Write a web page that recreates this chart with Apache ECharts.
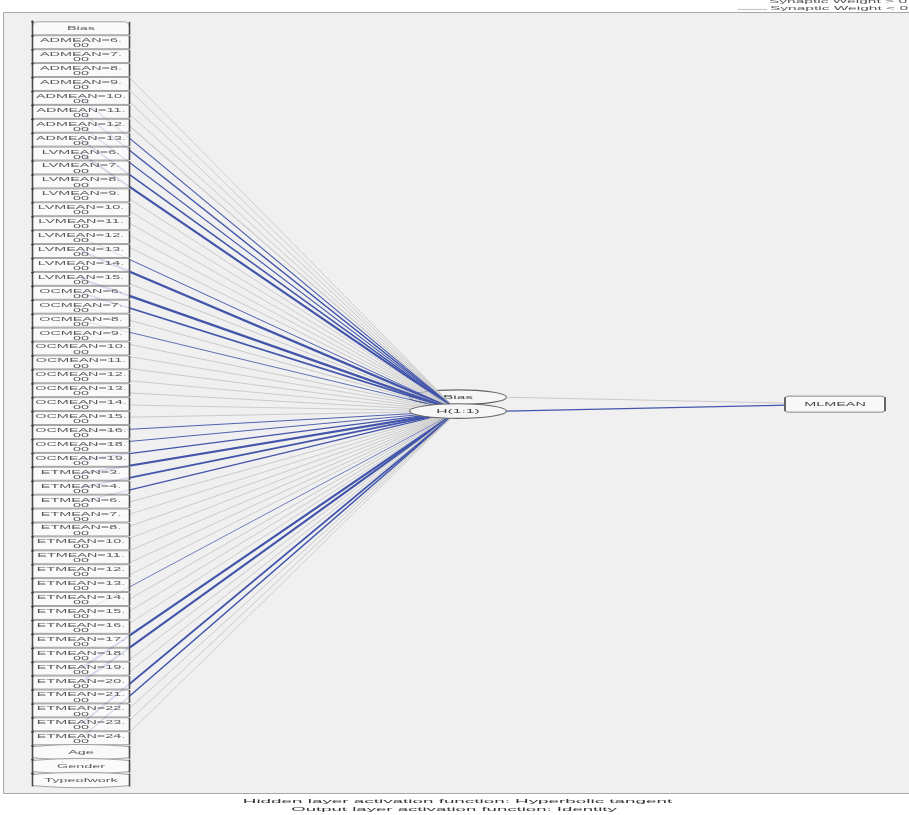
<!DOCTYPE html>
<html>
<head>
<meta charset="utf-8">
<script src="https://cdn.jsdelivr.net/npm/echarts@6/dist/echarts.min.js"></script>
<style>
  html, body { margin: 0; padding: 0; background: #ffffff; }
  #chart { width: 909px; height: 815px; }
</style>
</head>
<body>
<div id="chart"></div>
<script>
// ---- Network structure ----
const factorInputs = [
  'ADMEAN=6.00', 'ADMEAN=7.00', 'ADMEAN=8.00', 'ADMEAN=9.00', 'ADMEAN=10.00', 'ADMEAN=11.00', 'ADMEAN=12.00', 'ADMEAN=13.00',
  'LVMEAN=6.00', 'LVMEAN=7.00', 'LVMEAN=8.00', 'LVMEAN=9.00', 'LVMEAN=10.00', 'LVMEAN=11.00', 'LVMEAN=12.00', 'LVMEAN=13.00', 'LVMEAN=14.00', 'LVMEAN=15.00',
  'OCMEAN=6.00', 'OCMEAN=7.00', 'OCMEAN=8.00', 'OCMEAN=9.00', 'OCMEAN=10.00', 'OCMEAN=11.00', 'OCMEAN=12.00', 'OCMEAN=13.00', 'OCMEAN=14.00', 'OCMEAN=15.00', 'OCMEAN=16.00', 'OCMEAN=18.00', 'OCMEAN=19.00',
  'ETMEAN=3.00', 'ETMEAN=4.00', 'ETMEAN=6.00', 'ETMEAN=7.00', 'ETMEAN=8.00', 'ETMEAN=10.00', 'ETMEAN=11.00', 'ETMEAN=12.00', 'ETMEAN=13.00', 'ETMEAN=14.00',
  'ETMEAN=15.00', 'ETMEAN=16.00', 'ETMEAN=17.00', 'ETMEAN=18.00', 'ETMEAN=19.00', 'ETMEAN=20.00', 'ETMEAN=21.00', 'ETMEAN=22.00', 'ETMEAN=23.00', 'ETMEAN=24.00'
];
const covariateInputs = ['Age', 'Gender', 'Typeofwork'];
const inputNodes = ['Bias'].concat(factorInputs, covariateInputs);

const hiddenNodes = ['Bias', 'H(1:1)'];
const outputNodes = ['MLMEAN'];

// Synaptic weights: input layer -> H(1:1), in the order of inputNodes
const inputWeights = [
  -0.18,
  -0.18, -0.20, -0.20, -0.22, 0.24, 0.30, 0.24, 0.34,
  0.48, -0.20, -0.18, -0.20, -0.18, -0.20, 0.20, 0.50, -0.20, 0.48,
  0.36, -0.20, 0.18, -0.20, -0.18, -0.20, -0.18, -0.20, -0.18, -0.20, 0.20, 0.20, 0.30,
  0.45, 0.36, 0.26, -0.20, -0.18, -0.20, -0.18, -0.20, -0.20, -0.18,
  0.16, -0.20, -0.20, -0.18, 0.50, 0.45, -0.20, -0.20, 0.40, 0.30,
  -0.20, -0.20, -0.18
];
// Synaptic weights: hidden layer (Bias, H(1:1)) -> MLMEAN
const hiddenWeights = [-0.20, 0.30];

const legendLabels = ['Synaptic Weight > 0', 'Synaptic Weight < 0'];
const footnotes = [
  'Hidden layer activation function: Hyperbolic tangent',
  'Output layer activation function: Identity'
];

// ---- Layout on the (hidden) value axes ----
const LAYER_IN = 0, LAYER_HID = 1, LAYER_OUT = 2;
const hiddenRows = [26.5, 27.5];
const outputRows = [27];

const POS = '#4255aa';
const NEG = '#c6c6c6';
const FONT = '"Liberation Sans", Arial, sans-serif';
const ELL_RX = 48.5, ELL_RY = 7.3;

function weightStyle(w) {
  return { stroke: w > 0 ? POS : NEG, lineWidth: Math.max(0.6, Math.abs(w) * 4.6) };
}

function txt(x, y, text, size, sx, sy, color) {
  return {
    type: 'text', x: x, y: y, scaleX: sx, scaleY: sy, z2: 20,
    style: { text: text, fill: color, font: size + 'px ' + FONT, align: 'center', verticalAlign: 'middle' }
  };
}

// Connections: [fromLayer, fromRow, toLayer, toRow, weight]
const links = [];
inputNodes.forEach(function (n, i) {
  links.push([LAYER_IN, i, LAYER_HID, hiddenRows[1], inputWeights[i]]);
});
hiddenNodes.forEach(function (n, j) {
  links.push([LAYER_HID, hiddenRows[j], LAYER_OUT, outputRows[0], hiddenWeights[j]]);
});

const chart = echarts.init(document.getElementById('chart'), null, { renderer: 'canvas' });

const option = {
  backgroundColor: '#ffffff',
  animation: false,
  grid: { left: 81, right: 74, top: 28.3, bottom: 35, containLabel: false },
  xAxis: { type: 'value', min: 0, max: 2, show: false },
  yAxis: { type: 'value', min: 0, max: 54, inverse: true, show: false },
  graphic: [
    { type: 'rect', z: 0, shape: { x: 3.5, y: 12.5, width: 930, height: 781 },
      style: { fill: '#f0f0f0', stroke: '#a8a8a8', lineWidth: 1 } },
    { type: 'line', z: 0, shape: { x1: 738, y1: 9.5, x2: 767, y2: 9.5 }, style: { stroke: NEG, lineWidth: 1.2 } },
    { type: 'text', z: 1, x: 769, y: 2.2, scaleX: 1.55, scaleY: 0.45,
      style: { text: legendLabels[0], fill: '#555', font: '10px ' + FONT, align: 'left', verticalAlign: 'middle' } },
    { type: 'text', z: 1, x: 770, y: 8.8, scaleX: 1.55, scaleY: 0.45,
      style: { text: legendLabels[1], fill: '#555', font: '10px ' + FONT, align: 'left', verticalAlign: 'middle' } },
    { type: 'text', z: 1, x: 457.5, y: 800.8, scaleX: 1.57, scaleY: 0.52,
      style: { text: footnotes[0], fill: '#333', font: '12px ' + FONT, align: 'center', verticalAlign: 'middle' } },
    { type: 'text', z: 1, x: 454, y: 809.4, scaleX: 1.55, scaleY: 0.52,
      style: { text: footnotes[1], fill: '#333', font: '12px ' + FONT, align: 'center', verticalAlign: 'middle' } }
  ],
  series: [
    // hidden-layer bias unit (lies beneath the connection lines)
    {
      type: 'custom', z: 2, clip: false, silent: true,
      data: [[LAYER_HID, hiddenRows[0]]],
      renderItem: function (params, api) {
        const p = api.coord([api.value(0), api.value(1)]);
        return {
          type: 'group', children: [
            { type: 'ellipse', shape: { cx: p[0], cy: p[1], rx: ELL_RX, ry: ELL_RY },
              style: { fill: '#f6f6f6', stroke: '#666', lineWidth: 1.1 } },
            txt(p[0], p[1], hiddenNodes[0], 12, 1.29, 0.5, '#444')
          ]
        };
      }
    },
    // synaptic connections
    {
      type: 'custom', z: 3, clip: false, silent: true,
      data: links,
      renderItem: function (params, api) {
        const a = api.coord([api.value(0), api.value(1)]);
        const b = api.coord([api.value(2), api.value(3)]);
        const x1 = api.value(0) === LAYER_HID ? a[0] + ELL_RX : a[0];
        return {
          type: 'line', shape: { x1: x1, y1: a[1], x2: b[0], y2: b[1] },
          style: weightStyle(api.value(4))
        };
      }
    },
    // input layer units
    {
      type: 'custom', z: 4, clip: false, silent: true,
      data: inputNodes.map(function (n, i) { return [LAYER_IN, i]; }),
      renderItem: function (params, api) {
        const i = params.dataIndex;
        const name = inputNodes[i];
        const p = api.coord([api.value(0), api.value(1)]);
        const w = 97, h = 13;
        const x0 = p[0] - w / 2, y0 = p[1] - h / 2;
        const kids = [];
        const boxStyle = { fill: 'rgba(252,252,252,0.8)', stroke: '#a2a2a2', lineWidth: 1 };
        if (covariateInputs.indexOf(name) >= 0) {
          // barrel-shaped unit for scale covariates
          const pts = [];
          const steps = 16, bulge = 2.2;
          for (let k = 0; k <= steps; k++) {
            const t = k / steps;
            pts.push([x0 + w * t, y0 + 1 - bulge * 4 * t * (1 - t)]);
          }
          for (let k = steps; k >= 0; k--) {
            const t = k / steps;
            pts.push([x0 + w * t, y0 + h - 1 + bulge * 4 * t * (1 - t)]);
          }
          kids.push({ type: 'polygon', shape: { points: pts }, style: boxStyle });
        } else {
          kids.push({ type: 'rect', shape: { x: x0, y: y0, width: w, height: h, r: i === 0 ? [5, 5, 1, 1] : 1 }, style: boxStyle });
        }
        kids.push({ type: 'line', shape: { x1: x0, y1: y0, x2: x0, y2: y0 + h }, style: { stroke: '#4a4a4a', lineWidth: 1.6 } });
        kids.push({ type: 'line', shape: { x1: x0 + w, y1: y0, x2: x0 + w, y2: y0 + h }, style: { stroke: '#4a4a4a', lineWidth: 1.6 } });
        kids.push({ type: 'circle', shape: { cx: x0, cy: y0, r: 1.2 }, style: { fill: '#333' } });
        const dot = name.indexOf('.');
        if (dot >= 0) {
          kids.push(txt(p[0], p[1] - 1.6, name.slice(0, dot + 1), 12, 1.2, 0.48, '#5a5a5a'));
          kids.push(txt(p[0], p[1] + 3.7, name.slice(dot + 1), 12, 1.2, 0.43, '#5a5a5a'));
        } else {
          kids.push(txt(p[0], p[1], name, 12, 1.2, 0.5, '#5a5a5a'));
        }
        return { type: 'group', children: kids };
      }
    },
    // hidden unit H(1:1)
    {
      type: 'custom', z: 5, clip: false, silent: true,
      data: [[LAYER_HID, hiddenRows[1]]],
      renderItem: function (params, api) {
        const p = api.coord([api.value(0), api.value(1)]);
        return {
          type: 'group', children: [
            { type: 'ellipse', shape: { cx: p[0], cy: p[1], rx: ELL_RX, ry: ELL_RY },
              style: { fill: '#f6f6f6', stroke: '#666', lineWidth: 1.1 } },
            txt(p[0], p[1], hiddenNodes[1], 12, 1.3, 0.5, '#444')
          ]
        };
      }
    },
    // output layer
    {
      type: 'custom', z: 5, clip: false, silent: true,
      data: outputNodes.map(function (n, k) { return [LAYER_OUT, outputRows[k]]; }),
      renderItem: function (params, api) {
        const p = api.coord([api.value(0), api.value(1)]);
        const w = 100, h = 16;
        const x0 = p[0] - w / 2, y0 = p[1] - h / 2;
        return {
          type: 'group', children: [
            { type: 'rect', shape: { x: x0, y: y0, width: w, height: h, r: 3 },
              style: { fill: '#f8f8f8', stroke: '#8a8a8a', lineWidth: 1 } },
            { type: 'line', shape: { x1: x0, y1: y0 + 1, x2: x0, y2: y0 + h - 1 }, style: { stroke: '#4a4a4a', lineWidth: 1.5 } },
            { type: 'line', shape: { x1: x0 + w, y1: y0 + 1, x2: x0 + w, y2: y0 + h - 1 }, style: { stroke: '#4a4a4a', lineWidth: 1.5 } },
            txt(p[0], p[1], outputNodes[params.dataIndex], 12, 1.2, 0.5, '#444')
          ]
        };
      }
    }
  ]
};

chart.setOption(option);
</script>
</body>
</html>
